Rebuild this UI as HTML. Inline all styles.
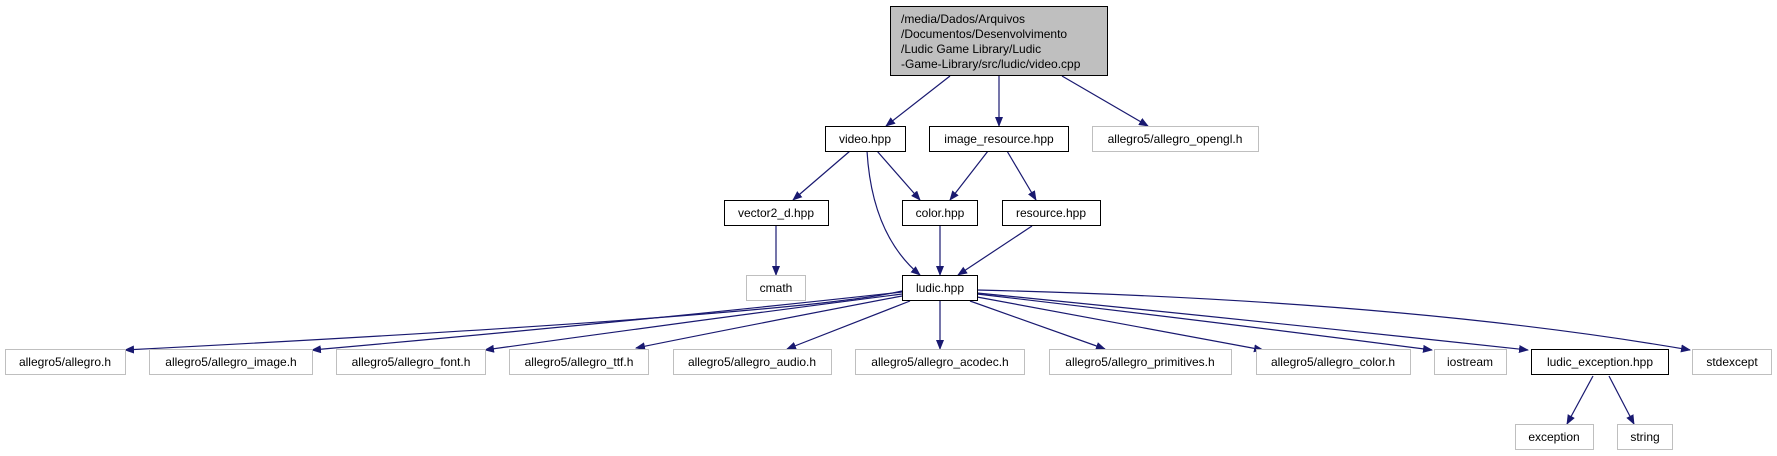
<!DOCTYPE html>
<html><head><meta charset="utf-8"><style>
html,body{margin:0;padding:0;background:#fff;}
svg{display:block;}
text{font-family:"Liberation Sans",sans-serif;font-size:12px;fill:#000;}
</style></head><body>
<svg width="1777" height="456" viewBox="0 0 1777 456" xmlns="http://www.w3.org/2000/svg">
<defs><marker id="a" markerWidth="10" markerHeight="8" refX="9" refY="4" orient="auto" markerUnits="userSpaceOnUse"><path d="M0,0 L10,4 L0,8 z" fill="#191970"/></marker></defs>
<g fill="none" stroke="#191970" stroke-width="1.2" marker-end="url(#a)">
<path d="M950,76 L886,126"/>
<path d="M999,76 L999,126"/>
<path d="M1062,76 L1148,126"/>
<path d="M850,151 L793,200"/>
<path d="M877,151 L920,200"/>
<path d="M867,151 Q872,235 920,275"/>
<path d="M988,151 L950,200"/>
<path d="M1007,151 L1036,200"/>
<path d="M776,226 L776,275"/>
<path d="M940,226 L940,275"/>
<path d="M1032,226 L958,275"/>
<path d="M1593,376 L1567,424"/>
<path d="M1609,376 L1634,424"/>
<path d="M902,291 Q800,315 125,350"/>
<path d="M902,292 Q650,320 312,350"/>
<path d="M902,294 Q700,320 485,350"/>
<path d="M902,296 Q750,325 636,348"/>
<path d="M910,301 L787,349"/>
<path d="M940,301 L940,349"/>
<path d="M970,301 L1105,349"/>
<path d="M977,297 L1263,350"/>
<path d="M977,294 Q1200,320 1432,350"/>
<path d="M977,293 Q1250,320 1528,350"/>
<path d="M977,290 Q1400,300 1690,350"/>
</g>
<g stroke-width="1">
<rect x="890.5" y="6.5" width="217" height="69" fill="#bfbfbf" stroke="#000"/>
</g>
<text x="901" y="23">/media/Dados/Arquivos</text>
<text x="901" y="38">/Documentos/Desenvolvimento</text>
<text x="901" y="53">/Ludic Game Library/Ludic</text>
<text x="901" y="68">-Game-Library/src/ludic/video.cpp</text>
<g fill="#fff" stroke="#000">
<rect x="825.5" y="126.5" width="80" height="25"/>
<rect x="929.5" y="126.5" width="139" height="25"/>
<rect x="724.5" y="200.5" width="104" height="25"/>
<rect x="902.5" y="200.5" width="75" height="25"/>
<rect x="1002.5" y="200.5" width="98" height="25"/>
<rect x="902.5" y="275.5" width="75" height="25"/>
<rect x="1531.5" y="349.5" width="137" height="25"/>
</g>
<g fill="#fff" stroke="#bfbfbf">
<rect x="1092.5" y="126.5" width="166" height="25"/>
<rect x="746.5" y="275.5" width="59" height="25"/>
<rect x="5.5" y="349.5" width="120" height="25"/>
<rect x="149.5" y="349.5" width="163" height="25"/>
<rect x="336.5" y="349.5" width="149" height="25"/>
<rect x="509.5" y="349.5" width="139" height="25"/>
<rect x="673.5" y="349.5" width="158" height="25"/>
<rect x="855.5" y="349.5" width="169" height="25"/>
<rect x="1049.5" y="349.5" width="182" height="25"/>
<rect x="1256.5" y="349.5" width="154" height="25"/>
<rect x="1434.5" y="349.5" width="72" height="25"/>
<rect x="1692.5" y="349.5" width="79" height="25"/>
<rect x="1515.5" y="424.5" width="78" height="25"/>
<rect x="1617.5" y="424.5" width="55" height="25"/>
</g>
<g text-anchor="middle">
<text x="865" y="143">video.hpp</text>
<text x="999" y="143">image_resource.hpp</text>
<text x="1175" y="143">allegro5/allegro_opengl.h</text>
<text x="776" y="217">vector2_d.hpp</text>
<text x="940" y="217">color.hpp</text>
<text x="1051" y="217">resource.hpp</text>
<text x="776" y="292">cmath</text>
<text x="940" y="292">ludic.hpp</text>
<text x="65" y="366">allegro5/allegro.h</text>
<text x="231" y="366">allegro5/allegro_image.h</text>
<text x="411" y="366">allegro5/allegro_font.h</text>
<text x="579" y="366">allegro5/allegro_ttf.h</text>
<text x="752" y="366">allegro5/allegro_audio.h</text>
<text x="940" y="366">allegro5/allegro_acodec.h</text>
<text x="1140" y="366">allegro5/allegro_primitives.h</text>
<text x="1333" y="366">allegro5/allegro_color.h</text>
<text x="1470" y="366">iostream</text>
<text x="1600" y="366">ludic_exception.hpp</text>
<text x="1732" y="366">stdexcept</text>
<text x="1554" y="441">exception</text>
<text x="1645" y="441">string</text>
</g>
</svg>
</body></html>
